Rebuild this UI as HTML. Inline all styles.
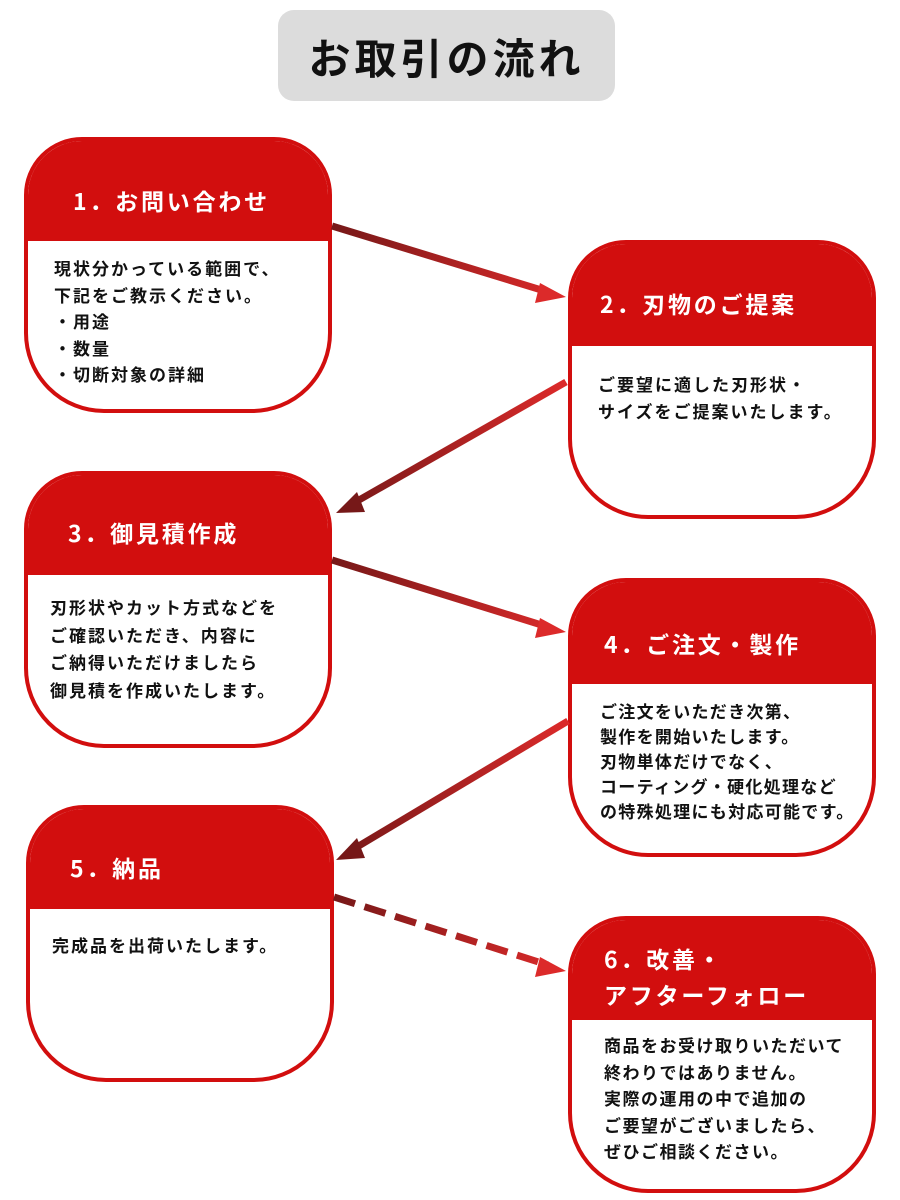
<!DOCTYPE html>
<html><head><meta charset="utf-8"><style>
body{margin:0;width:900px;height:1200px;background:#fff;position:relative;overflow:hidden;font-family:"Liberation Sans","Noto Sans CJK JP",sans-serif;}
.ttl{position:absolute;left:278px;top:10px;width:337px;height:91px;background:#dcdcdc;border-radius:16px;font-size:42px;font-weight:bold;text-align:center;line-height:93px;color:#111;letter-spacing:4px;font-family:"Noto Sans CJK JP",sans-serif}
.box{position:absolute;width:300px;border:4px solid #d20e0e;border-radius:58px 58px 80px 80px;overflow:hidden;background:#fff;box-sizing:content-box}
.hd{background:#d20e0e;color:#fff;font-weight:bold;font-size:23px;letter-spacing:2.8px;box-sizing:border-box;font-family:"Noto Sans CJK JP",sans-serif}
.bd{font-size:17px;font-weight:bold;color:#111;letter-spacing:2px;font-family:"Noto Sans CJK JP",sans-serif}
svg{position:absolute;left:0;top:0}
</style></head><body>
<div class="ttl">お取引の流れ</div>

<div class="box" style="left:24px;top:137px;height:268px">
<div class="hd" style="height:100px;padding:42px 0 0 45px">1．お問い合わせ</div>
<div class="bd" style="padding:14px 0 0 26px;line-height:26.5px">現状分かっている範囲で、<br>下記をご教示ください。<br>・用途<br>・数量<br>・切断対象の詳細</div></div>

<div class="box" style="left:568px;top:240px;height:271px">
<div class="hd" style="height:102px;padding:42px 0 0 28px">2．刃物のご提案</div>
<div class="bd" style="padding:24px 0 0 26px;line-height:27px">ご要望に適した刃形状・<br>サイズをご提案いたします。</div></div>

<div class="box" style="left:24px;top:471px;height:269px">
<div class="hd" style="height:100px;padding:40px 0 0 40px">3．御見積作成</div>
<div class="bd" style="padding:18px 0 0 22px;line-height:27.5px">刃形状やカット方式などを<br>ご確認いただき、内容に<br>ご納得いただけましたら<br>御見積を作成いたします。</div></div>

<div class="box" style="left:568px;top:578px;height:271px">
<div class="hd" style="height:102px;padding:44px 0 0 32px">4．ご注文・製作</div>
<div class="bd" style="padding:14px 0 0 28px;line-height:25px;letter-spacing:1.3px">ご注文をいただき次第、<br>製作を開始いたします。<br>刃物単体だけでなく、<br>コーティング・硬化処理など<br>の特殊処理にも対応可能です。</div></div>

<div class="box" style="left:26px;top:805px;height:269px">
<div class="hd" style="height:100px;padding:41px 0 0 40px">5．納品</div>
<div class="bd" style="padding:22px 0 0 22px;line-height:27px">完成品を出荷いたします。</div></div>

<div class="box" style="left:568px;top:916px;height:269px">
<div class="hd" style="height:100px;padding:20px 0 0 32px;line-height:36px">6．改善・<br>アフターフォロー</div>
<div class="bd" style="padding:12px 0 0 32px;line-height:26.5px;letter-spacing:1.5px">商品をお受け取りいただいて<br>終わりではありません。<br>実際の運用の中で追加の<br>ご要望がございましたら、<br>ぜひご相談ください。</div></div>

<svg width="900" height="1200">
<defs>
<linearGradient id="g1" gradientUnits="userSpaceOnUse" x1="332" y1="226" x2="565" y2="297"><stop offset="0" stop-color="#761818"/><stop offset="1" stop-color="#dc2a2a"/></linearGradient>
<linearGradient id="g2" gradientUnits="userSpaceOnUse" x1="565" y1="382" x2="338" y2="512"><stop offset="0" stop-color="#dc2a2a"/><stop offset="1" stop-color="#761818"/></linearGradient>
<linearGradient id="g3" gradientUnits="userSpaceOnUse" x1="332" y1="560" x2="565" y2="632"><stop offset="0" stop-color="#761818"/><stop offset="1" stop-color="#dc2a2a"/></linearGradient>
<linearGradient id="g4" gradientUnits="userSpaceOnUse" x1="568" y1="720" x2="338" y2="858"><stop offset="0" stop-color="#dc2a2a"/><stop offset="1" stop-color="#761818"/></linearGradient>
<linearGradient id="g5" gradientUnits="userSpaceOnUse" x1="334" y1="896" x2="565" y2="970"><stop offset="0" stop-color="#761818"/><stop offset="1" stop-color="#dc2a2a"/></linearGradient>
</defs>
<g stroke-width="7" fill="none">
<line x1="332" y1="226" x2="548" y2="292" stroke="url(#g1)"/>
<line x1="566" y1="382" x2="352" y2="504" stroke="url(#g2)"/>
<line x1="332" y1="560" x2="548" y2="627" stroke="url(#g3)"/>
<line x1="568" y1="721" x2="352" y2="850" stroke="url(#g4)"/>
<line x1="334" y1="897" x2="548" y2="965" stroke="url(#g5)" stroke-dasharray="22,10"/>
</g>
<polygon points="566,297 540,283 535,303" fill="#dc2a2a"/>
<polygon points="336,513 357,492 365,512" fill="#761818"/>
<polygon points="566,632 540,618 535,638" fill="#dc2a2a"/>
<polygon points="336,860 357,838 365,858" fill="#761818"/>
<polygon points="566,971 540,957 535,977" fill="#dc2a2a"/>
</svg>
</body></html>
